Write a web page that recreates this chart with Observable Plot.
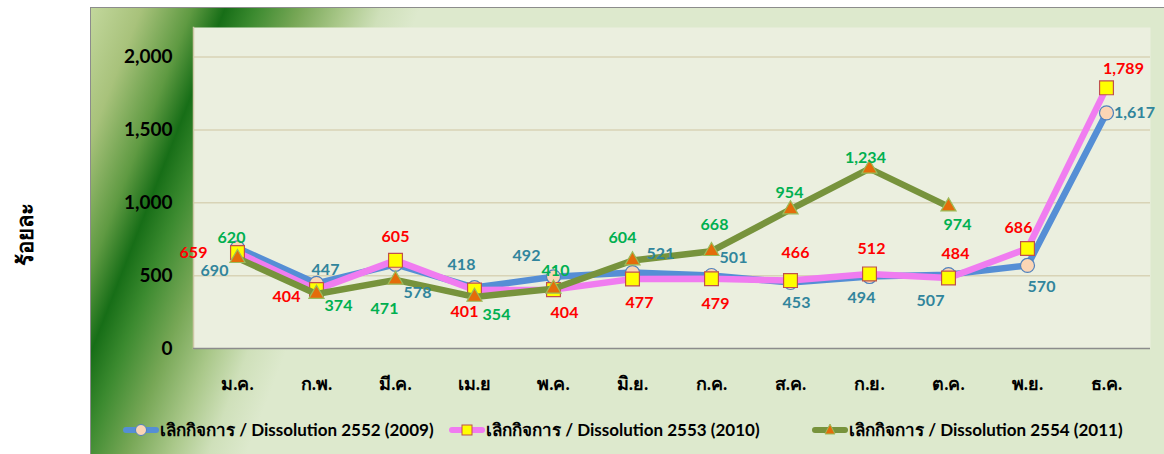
<!DOCTYPE html>
<html><head><meta charset="utf-8">
<script src="https://cdn.jsdelivr.net/npm/d3@7"></script>
<script src="https://cdn.jsdelivr.net/npm/@observablehq/plot@0.6"></script>
<style>
html,body{margin:0;padding:0;background:#fff;overflow:hidden;width:1164px;height:454px;font-family:Lato,"DejaVu Sans","Noto Sans",sans-serif;}
#frame{position:absolute;left:90px;top:7px;width:1090px;height:460px;box-sizing:border-box;border:1px solid #8c8c8c;
background:linear-gradient(111.3deg,#c2d79c 0%,#a8c27b 4%,#5f9a42 8%,#176e17 10.6%,#3b8a2f 13%,#77a756 16.5%,#aac88a 20%,#cfe0ba 23%,#dde9cd 26%,#dde9cd 100%);}
#chart{position:absolute;left:0;top:0;}
#ylab{position:absolute;left:25px;top:234px;transform:translate(-50%,-50%) rotate(-90deg);font-weight:bold;font-size:22px;white-space:nowrap;color:#000;}
.leg{position:absolute;top:416px;display:flex;align-items:center;font-weight:bold;font-size:17px;color:#000;white-space:nowrap;}
.leg svg{display:block;margin-right:1px;}
</style></head>
<body>
<div id="frame"></div>
<div id="chart"></div>
<div id="ylab">ร้อยละ</div>
<div id="legend"></div>
<script>
// ---- data ----
const months = ["ม.ค.","ก.พ.","มี.ค.","เม.ย","พ.ค.","มิ.ย.","ก.ค.","ส.ค.","ก.ย.","ต.ค.","พ.ย.","ธ.ค."];
const dissolution2552 = [690, 447, 578, 418, 492, 521, 501, 453, 494, 507, 570, 1617];
const dissolution2553 = [659, 404, 605, 401, 404, 477, 479, 466, 512, 484, 686, 1789];
const dissolution2554 = [620, 374, 471, 354, 410, 604, 668, 954, 1234, 974];
const seriesNames = ["เลิกกิจการ / Dissolution 2552 (2009)","เลิกกิจการ / Dissolution 2553 (2010)","เลิกกิจการ / Dissolution 2554 (2011)"];
const yTicks = [0, 500, 1000, 1500, 2000];

// ---- label placement (pixel offsets from each point) ----
const off2552 = [[-23,23],[9,-13],[22,29],[-13,-23],[-27,-21],[28,-19],[22,-18],[6,20],[-8,21],[-18,26],[14,21],[28,0]];
const off2553 = [[-44,0],[-30,7],[0,-23],[-10,22],[11,23],[7,24],[4,25],[5,-28],[2,-25],[7,-24],[-9,-21],[17,-19]];
const off2554 = [[-6,-20],[22,12],[-11,29],[22,18],[2,-18],[-10,-23],[3,-26],[-1,-17],[-4,-11],[9,18]];

const styles = [
  {line:"#558ed5", symbol:"circle", r:7, fill:"#fbd5b5", stroke:"#4f81bd", label:"#31859c", off:off2552},
  {line:"#f07cf0", symbol:"square", r:7.8, fill:"#ffff00", stroke:"#c0504d", label:"#ff0000", off:off2553},
  {line:"#77933c", symbol:"triangle", r:5.6, fill:"#e46c0a", stroke:"#9bbb59", label:"#00b050", off:off2554}
];
const valuesList = [dissolution2552, dissolution2553, dissolution2554];
const fmt = d3.format(",d");

const marks = [
  Plot.frame({fill:"#ebefdf", stroke:null}),
  Plot.ruleY(yTicks.filter(d=>d>0), {stroke:"#d8d3b6", strokeWidth:1.5}),
  Plot.frame({anchor:"left", stroke:"#cdc7a6", strokeWidth:1.5}),
  Plot.ruleY([0], {stroke:"#8c8c8c", strokeWidth:1.5}),
];
valuesList.forEach((vals, si) => {
  const s = styles[si];
  const data = vals.map((v,i)=>({m:months[i], v}));
  marks.push(Plot.line(data, {x:"m", y:"v", stroke:s.line, strokeWidth:6.5, strokeLinejoin:"round", strokeLinecap:"round"}));
  marks.push(Plot.dot(data, {x:"m", y:"v", symbol:()=>s.symbol, r:s.r, fill:s.fill, stroke:s.stroke, strokeWidth:1.2}));
});
valuesList.forEach((vals, si) => {
  const s = styles[si];
  vals.forEach((v,i)=>{
    marks.push(Plot.text([{m:months[i], v}], {x:"m", y:"v", text:d=>fmt(d.v), dx:s.off[i][0], dy:s.off[i][1], fill:s.label, fontSize:16, fontWeight:"bold"}));
  });
});

const chart = Plot.plot({
  width:1164, height:400,
  marginLeft:193, marginRight:14, marginTop:27, marginBottom:52,
  style:{background:"transparent", fontFamily:'Lato,"DejaVu Sans","Noto Sans",sans-serif', overflow:"visible"},
  x:{type:"point", domain:months, padding:0.5, label:null},
  y:{domain:[0,2203], label:null},
  marks:[
    ...marks,
    Plot.axisX({tickSize:0, tickPadding:29, fontSize:18, fontWeight:"bold", label:null}),
    Plot.axisY({ticks:yTicks, tickFormat:fmt, tickSize:0, tickPadding:21, fontSize:19, fontWeight:"bold", label:null})
  ]
});
chart.querySelectorAll("[aria-label='x-axis tick label'] text, [aria-label='y-axis tick label'] text").forEach(t=>t.setAttribute("fill","#000"));
document.getElementById("chart").appendChild(chart);

// ---- legend ----
const legPos = [123, 449, 812];
const legend = document.getElementById("legend");
seriesNames.forEach((name, si)=>{
  const s = styles[si];
  const div = document.createElement("div");
  div.className = "leg";
  div.style.left = legPos[si] + "px";
  let sym;
  if (s.symbol==="circle") sym = `<circle cx="18" cy="11" r="5.5" fill="${s.fill}" stroke="${s.stroke}" stroke-width="1"/>`;
  else if (s.symbol==="square") sym = `<rect x="13" y="6" width="10" height="10" fill="${s.fill}" stroke="${s.stroke}" stroke-width="1"/>`;
  else sym = `<path d="M18,5 L23,15 L13,15 Z" fill="${s.fill}" stroke="${s.stroke}" stroke-width="1"/>`;
  div.innerHTML = `<svg width="36" height="22"><line x1="3" y1="11" x2="33" y2="11" stroke="${s.line}" stroke-width="6" stroke-linecap="round"/>${sym}</svg><span>${name}</span>`;
  legend.appendChild(div);
});
</script>
</body></html>
